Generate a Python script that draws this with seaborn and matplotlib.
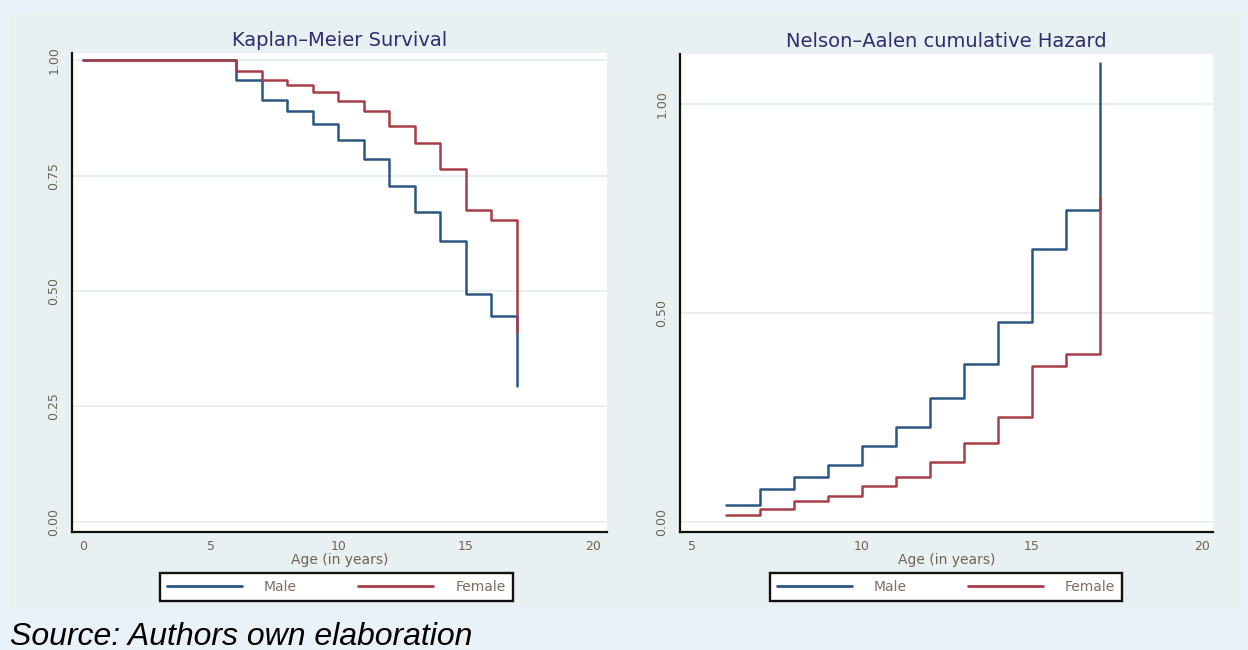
import matplotlib
matplotlib.use("Agg")
import matplotlib.pyplot as plt
from matplotlib.patches import Rectangle
from matplotlib.lines import Line2D
from matplotlib.ticker import FormatStrFormatter
import seaborn as sns
import pandas as pd

# ---- data ----
sexes = ["Male", "Female"]
km_time = [0, 6, 7, 8, 9, 10, 11, 12, 13, 14, 15, 16, 17]
km_male = [1.0, 0.957, 0.915, 0.890, 0.863, 0.828, 0.786, 0.728, 0.671, 0.609, 0.493, 0.446, 0.294]
km_female = [1.0, 0.976, 0.957, 0.946, 0.931, 0.911, 0.891, 0.857, 0.821, 0.765, 0.676, 0.654, 0.411]

na_time = [6, 7, 8, 9, 10, 11, 12, 13, 14, 15, 16, 17]
na_male = [0.041, 0.079, 0.109, 0.138, 0.183, 0.229, 0.298, 0.379, 0.478, 0.654, 0.747, 1.098]
na_female = [0.017, 0.033, 0.052, 0.064, 0.088, 0.109, 0.144, 0.189, 0.253, 0.374, 0.403, 0.778]

km_yticks = [0.0, 0.25, 0.50, 0.75, 1.00]
km_xticks = [0, 5, 10, 15, 20]
na_yticks = [0.0, 0.50, 1.00]
na_xticks = [5, 10, 15, 20]

title_km = "Kaplan\u2013Meier Survival"
title_na = "Nelson\u2013Aalen cumulative Hazard"
xlabel = "Age (in years)"
source = "Source: Authors own elaboration"

colors = {"Male": "#2a5682", "Female": "#a63e47"}

# ---- style ----
sns.set_style("white")
plt.rcParams["font.family"] = ["DejaVu Sans"]

W, H = 1248, 650
fig = plt.figure(figsize=(W / 100, H / 100), dpi=100)
fig.patch.set_facecolor("#e9f1f9")
bg = Rectangle((10 / W, 1 - 607 / H), 1230 / W, (607 - 13) / H,
               transform=fig.transFigure, facecolor="#e8f0f2",
               edgecolor="none", zorder=-10)
fig.patches.append(bg)

tick_col = "#6e625a"
title_col = "#2e2e6e"

def make_df(t, m, f):
    rows = []
    for s, vals in zip(sexes, [m, f]):
        for ti, v in zip(t, vals):
            rows.append({"time": ti, "value": v, "sex": s})
    return pd.DataFrame(rows)

def style_axis(ax, xlim, ylim, xticks, yticks, title):
    ax.set_facecolor("white")
    ax.set_xlim(*xlim)
    ax.set_ylim(*ylim)
    ax.set_xticks(xticks)
    ax.set_yticks(yticks)
    ax.yaxis.set_major_formatter(FormatStrFormatter("%.2f"))
    for y in yticks:
        ax.axhline(y, color="#e6eef0", lw=1.5, zorder=0)
    for side in ["top", "right"]:
        ax.spines[side].set_visible(False)
    for side in ["left", "bottom"]:
        ax.spines[side].set_color("#111111")
        ax.spines[side].set_linewidth(1.6)
    ax.tick_params(axis="both", direction="out", length=4.5, width=1.5,
                   color="#111111", labelsize=9, labelcolor=tick_col)
    ax.tick_params(axis="x", pad=1.5)
    ax.tick_params(axis="y", pad=4, labelrotation=90)
    for lab in ax.get_yticklabels():
        lab.set_va("center")
    ax.set_xlabel(xlabel, fontsize=10, color=tick_col, labelpad=0)
    ax.set_ylabel("")
    ax.set_title(title, fontsize=14, color=title_col, pad=5)

def add_legend(ax, cx):
    handles = [Line2D([0], [0], color=colors[s], lw=2.0) for s in sexes]
    leg = ax.legend(handles, sexes, loc="upper center", bbox_to_anchor=(cx, -0.086),
                    ncol=2, frameon=True, fancybox=False, framealpha=1,
                    edgecolor="#111111", facecolor="white", fontsize=10,
                    labelcolor="#7d6e62", handlelength=5.4, handletextpad=1.6,
                    columnspacing=4.4, borderpad=0.5, borderaxespad=0)
    leg.get_frame().set_linewidth(1.7)

# ---- left panel: Kaplan-Meier ----
ax1 = fig.add_axes([72 / W, 1 - 532 / H, 535 / W, (532 - 53) / H])
df_km = make_df(km_time, km_male, km_female)
sns.lineplot(data=df_km, x="time", y="value", hue="sex", hue_order=sexes,
             palette=colors, estimator=None, drawstyle="steps-post",
             lw=1.8, legend=False, ax=ax1)
style_axis(ax1, (-0.44, 20.54), (-0.0223, 1.016), km_xticks, km_yticks, title_km)
add_legend(ax1, 0.494)

# ---- right panel: Nelson-Aalen ----
ax2 = fig.add_axes([680 / W, 1 - 532 / H, 533 / W, (532 - 54) / H])
df_na = make_df(na_time, na_male, na_female)
sns.lineplot(data=df_na, x="time", y="value", hue="sex", hue_order=sexes,
             palette=colors, estimator=None, drawstyle="steps-post",
             lw=1.8, legend=False, ax=ax2)
style_axis(ax2, (4.65, 20.32), (-0.023, 1.120), na_xticks, na_yticks, title_na)
add_legend(ax2, 0.499)

fig.text(10 / W, 1 - 645 / H, source, fontsize=23, style="italic",
         family=["Liberation Sans", "DejaVu Sans"], color="black",
         ha="left", va="baseline")

fig.savefig("out.png", dpi=100, facecolor=fig.get_facecolor())
